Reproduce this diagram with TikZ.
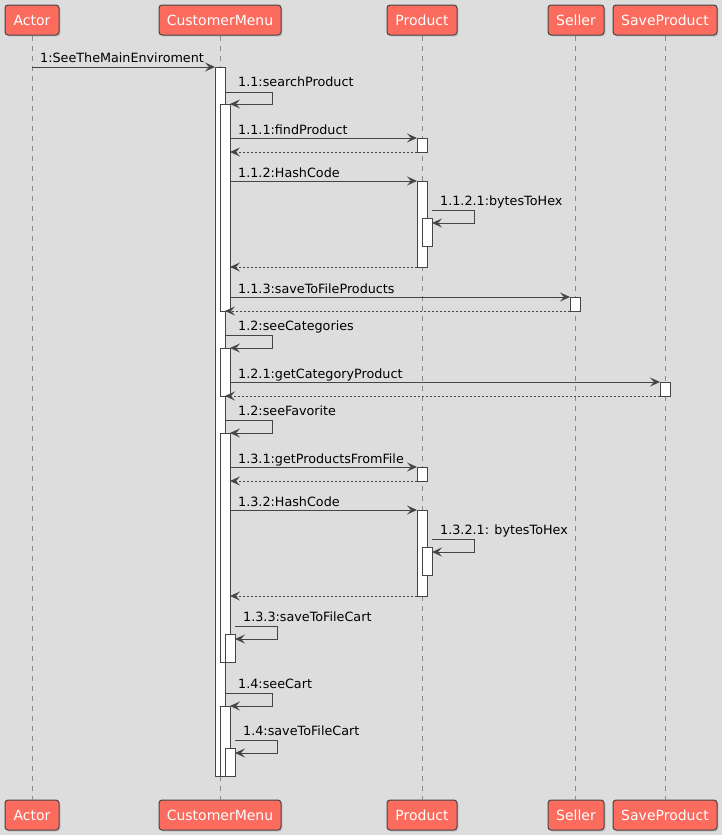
\documentclass[tikz,border=0pt]{standalone}
\usepackage{fontspec}
\setmainfont{DejaVu Sans}
\usetikzlibrary{arrows.meta,calc,shadows}
\definecolor{bgc}{HTML}{DDDDDD}
\definecolor{partc}{HTML}{FB6B5E}
\definecolor{linec}{HTML}{454545}
\definecolor{lifec}{HTML}{8A8A8A}
\newcommand\actbar[5]{\node[actbox, anchor=north west, minimum width={(#4-#2)*1pt}, minimum height={(#5-#3)*1pt}] (#1) at (#2,#3) {};}
\begin{document}
\begin{tikzpicture}[x=1pt,y=-1pt,
  part/.style={draw=linec, line width=1pt, fill=partc, rounded corners=3pt, text=white,
    font=\fontsize{14}{16}\selectfont, minimum height=30pt, inner sep=0pt,
    drop shadow={opacity=0.25, shadow xshift=1.5pt, shadow yshift=-1.5pt}},
  actbox/.style={draw=linec, fill=white, line width=1pt, inner sep=0pt, outer sep=0pt},
  msg/.style={draw=linec, line width=1pt, -{Stealth[length=10pt,width=9pt,inset=4pt]}},
  ret/.style={msg, dash pattern=on 2pt off 2pt},
  life/.style={draw=lifec, line width=1pt, dash pattern=on 5pt off 5pt},
  lbl/.style={anchor=base west, inner sep=0pt, font=\fontsize{12.75}{15}\selectfont, text=black}]
\fill[bgc] (0,0) rectangle (722,835);
\useasboundingbox (0,0) rectangle (722,835);
% participants
\node[part, minimum width=54pt]  (aT) at (32,20)  {Actor};
\node[part, minimum width=122pt] (cT) at (220,20) {CustomerMenu};
\node[part, minimum width=70pt]  (pT) at (422,20) {Product};
\node[part, minimum width=56pt]  (sT) at (576,20) {Seller};
\node[part, minimum width=104pt] (vT) at (665,20) {SaveProduct};
\node[part, minimum width=54pt]  (aB) at (32,815)  {Actor};
\node[part, minimum width=122pt] (cB) at (220,815) {CustomerMenu};
\node[part, minimum width=70pt]  (pB) at (422,815) {Product};
\node[part, minimum width=56pt]  (sB) at (576,815) {Seller};
\node[part, minimum width=104pt] (vB) at (665,815) {SaveProduct};
% lifelines
\draw[life] (aT.south) -- (aB.north);
\draw[life] (cT.south) -- (cB.north);
\draw[life] (pT.south) -- (pB.north);
\draw[life] ([xshift=-1pt]sT.south) -- ([xshift=-1pt]sB.north);
\draw[life] (vT.south) -- (vB.north);
% activation bars
\actbar{c1}{215}{67}{225}{776}
\actbar{c2}{220}{104}{230}{311}
\actbar{c3}{220}{348}{230}{396}
\actbar{c4}{220}{433}{230}{662}
\actbar{c5}{225}{634}{235}{662}
\actbar{c6}{220}{706}{230}{776}
\actbar{c7}{225}{748}{235}{776}
\actbar{p1}{417}{138}{427}{152}
\actbar{p2}{417}{181}{427}{267}
\actbar{p3}{422}{218}{432}{246}
\actbar{p4}{417}{467}{427}{481}
\actbar{p5}{417}{510}{427}{596}
\actbar{p6}{422}{547}{432}{575}
\actbar{s1}{570}{297}{580}{311}
\actbar{v1}{660}{382}{670}{396}
% messages
\draw[msg] (aT.south |- c1.north west) -- (c1.north west);
\node[lbl] at (40,62) {1:SeeTheMainEnviroment};
\draw[msg] (c1.east |- 0,92) -- (272,92) -- (272,104) -- (c2.north east);
\node[lbl] at (238,86) {1.1:searchProduct};
\draw[msg] (c2.east |- p1.north west) -- (p1.north west);
\node[lbl] at (238,134) {1.1.1:findProduct};
\draw[ret] (p1.south west) -- (c2.east |- p1.south west);
\draw[msg] (c2.east |- p2.north west) -- (p2.north west);
\node[lbl] at (238,177) {1.1.2:HashCode};
\draw[msg] (p3.east |- 0,210) -- (474,210) -- (474,223) -- (p3.east |- 0,223);
\node[lbl] at (440,205) {1.1.2.1:bytesToHex};
\draw[ret] (p2.south west) -- (c2.east |- p2.south west);
\draw[msg] (c2.east |- s1.north west) -- (s1.north west);
\node[lbl] at (238,293) {1.1.3:saveToFileProducts};
\draw[ret] (s1.south west) -- (c1.east |- s1.south west);
\draw[msg] (c1.east |- 0,335) -- (272,335) -- (272,348) -- (c3.north east);
\node[lbl] at (238,330) {1.2:seeCategories};
\draw[msg] (c3.east |- v1.north west) -- (v1.north west);
\node[lbl] at (238,378) {1.2.1:getCategoryProduct};
\draw[ret] (v1.south west) -- (c1.east |- v1.south west);
\draw[msg] (c1.east |- 0,420) -- (272,420) -- (272,433) -- (c4.north east);
\node[lbl] at (238,415) {1.2:seeFavorite};
\draw[msg] (c4.east |- p4.north west) -- (p4.north west);
\node[lbl] at (238,463) {1.3.1:getProductsFromFile};
\draw[ret] (p4.south west) -- (c4.east |- p4.south west);
\draw[msg] (c4.east |- p5.north west) -- (p5.north west);
\node[lbl] at (238,506) {1.3.2:HashCode};
\draw[msg] (p6.east |- 0,539) -- (474,539) -- (474,552) -- (p6.east |- 0,552);
\node[lbl] at (440,534) {1.3.2.1: bytesToHex};
\draw[ret] (p5.south west) -- (c4.east |- p5.south west);
\draw[msg] (c5.east |- 0,626) -- (277,626) -- (277,639) -- (c5.east |- 0,639);
\node[lbl] at (243,621) {1.3.3:saveToFileCart};
\draw[msg] (c1.east |- 0,693) -- (272,693) -- (272,706) -- (c6.north east);
\node[lbl] at (238,688) {1.4:seeCart};
\draw[msg] (c7.east |- 0,740) -- (277,740) -- (277,753) -- (c7.east |- 0,753);
\node[lbl] at (243,735) {1.4:saveToFileCart};
\end{tikzpicture}
\end{document}
